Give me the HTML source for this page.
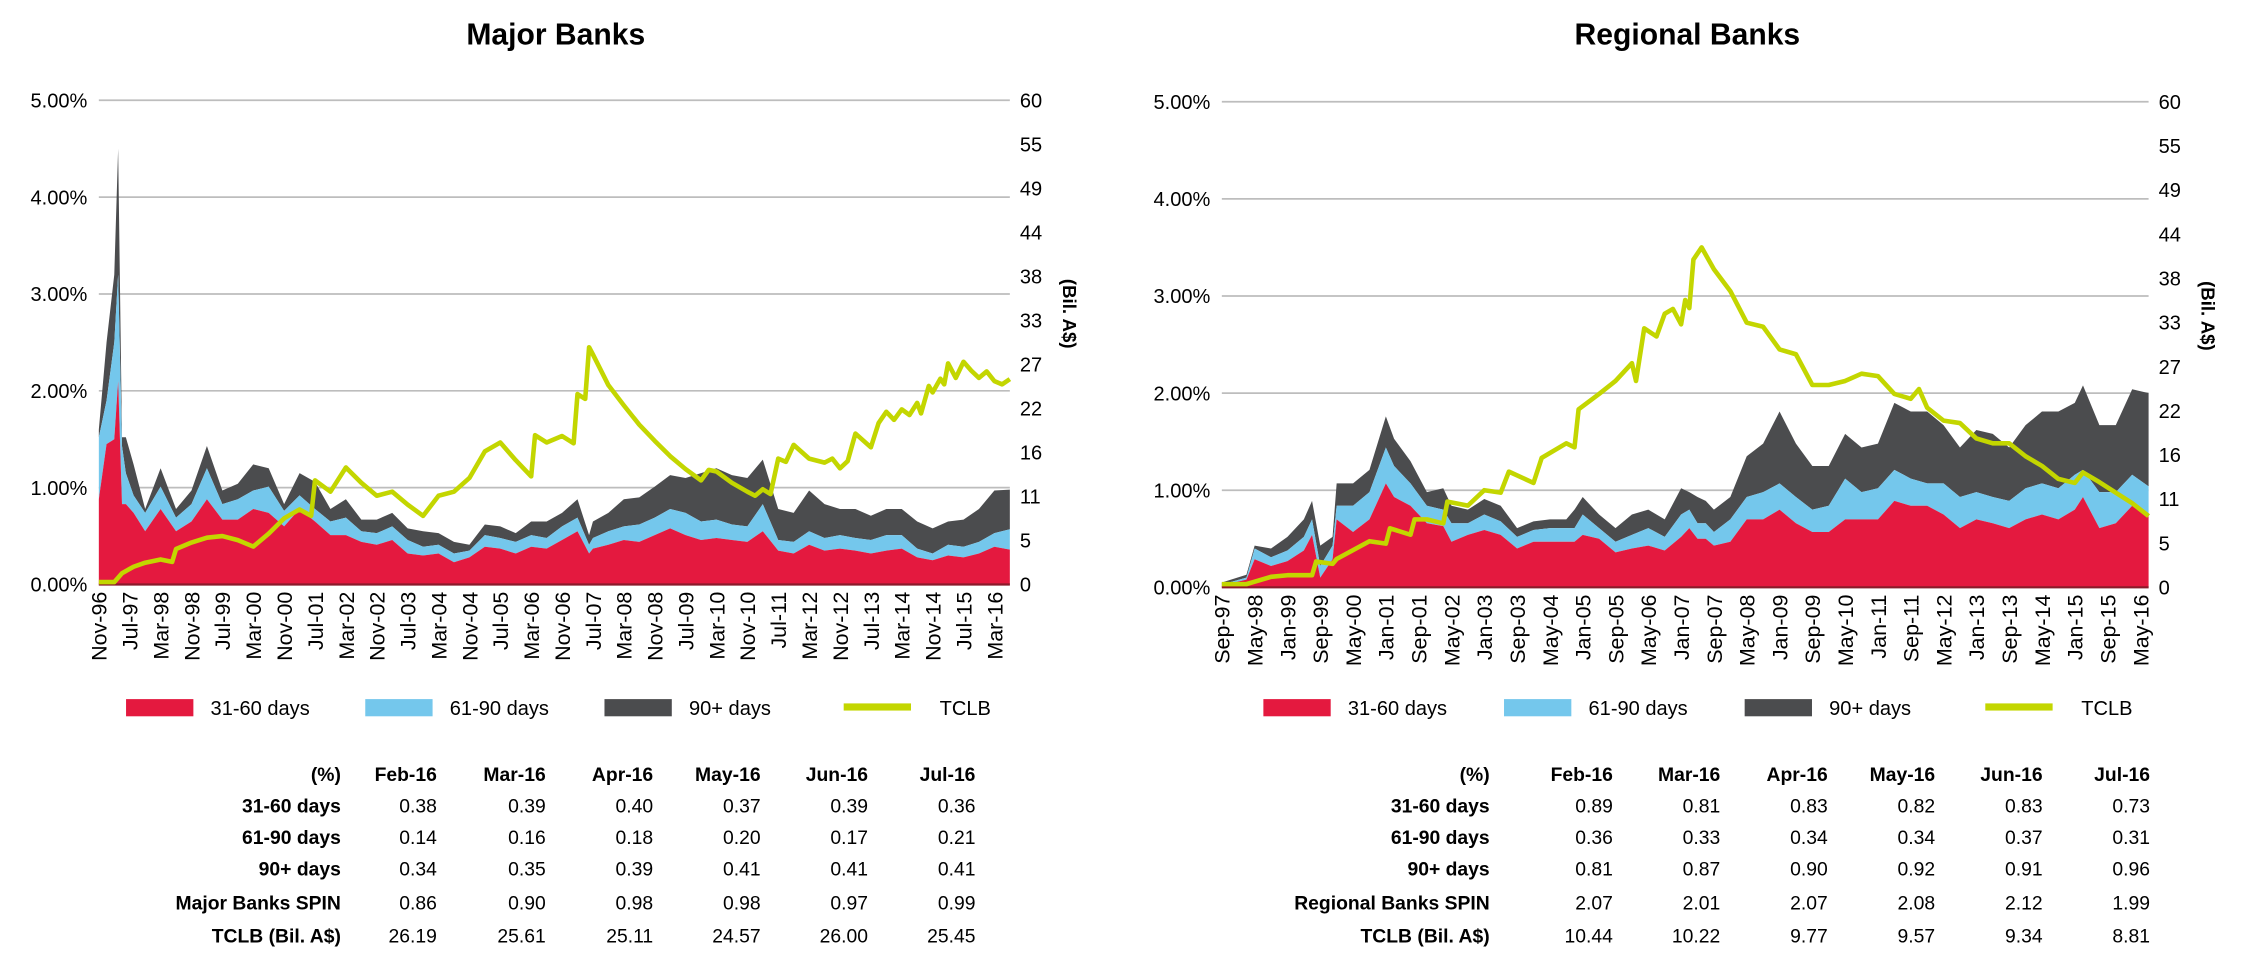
<!DOCTYPE html>
<html><head><meta charset="utf-8">
<style>
html,body{margin:0;padding:0;background:#fff;}
svg{display:block;font-family:"Liberation Sans",Arial,sans-serif;}
</style></head>
<body>
<svg id="root" width="2246" height="967" viewBox="0 0 1568 675" preserveAspectRatio="none" xmlns="http://www.w3.org/2000/svg">
<g id="left"></g>
<g id="right"></g>
</svg>
<script>
// ---- Major Banks data (month offsets from Nov-96) ----
const majorMonths=[0,2,4,5,6,7,9,12,16,20,24,28,32,36,40,44,48,52,56,60,64,68,72,76,80,84,88,92,96,100,104,108,112,116,120,124,127,128,132,136,140,144,148,152,156,160,164,168,172,176,180,184,188,192,196,200,204,208,212,216,220,224,228,232,236];
const major3160=[.88,1.45,1.5,2.1,.83,.83,.74,.55,.78,.55,.65,.88,.67,.67,.78,.74,.6,.78,.65,.51,.51,.44,.41,.46,.32,.3,.32,.23,.28,.39,.37,.32,.39,.37,.46,.55,.32,.37,.41,.46,.44,.51,.58,.51,.46,.48,.46,.44,.55,.35,.32,.41,.35,.37,.35,.32,.35,.37,.28,.25,.3,.28,.32,.39,.36];
const major6190=[.64,.45,1.0,1.1,.6,.32,.18,.19,.23,.14,.18,.32,.16,.21,.19,.27,.16,.14,.13,.14,.18,.11,.12,.14,.14,.09,.09,.09,.07,.12,.11,.12,.12,.11,.14,.14,.09,.11,.14,.14,.18,.18,.2,.23,.19,.19,.16,.16,.28,.11,.12,.14,.13,.14,.13,.14,.16,.14,.09,.07,.11,.11,.12,.14,.21];
const major90=[.08,.6,.7,1.3,.09,.37,.32,.04,.19,.09,.14,.23,.14,.16,.27,.19,.07,.23,.28,.13,.19,.12,.14,.14,.12,.16,.12,.12,.06,.11,.12,.09,.14,.17,.14,.19,.1,.17,.19,.28,.28,.32,.35,.36,.5,.53,.51,.5,.46,.32,.3,.42,.35,.27,.3,.25,.27,.27,.28,.26,.24,.28,.34,.44,.41];
const majorTclbMonths=[0,4,6,9,12,16,19,20,24,28,32,36,40,44,48,52,55,56,60,64,68,72,76,80,84,88,92,96,100,104,108,112,113,116,120,123,124,126,127,128,132,136,140,144,148,152,156,158,160,164,168,170,172,174,176,178,180,184,188,190,192,194,196,200,202,204,206,208,210,212,213,215,216,218,219,220,222,224,226,228,230,232,234,236];
const majorTclb=[.3,.3,1.4,2.2,2.7,3.1,2.8,4.4,5.2,5.8,6.0,5.5,4.7,6.3,8.2,9.3,8.5,12.9,11.5,14.5,12.6,11,11.5,9.9,8.5,11,11.5,13.2,16.5,17.6,15.4,13.4,18.5,17.6,18.4,17.5,23.6,23,29.4,28.5,24.7,22.2,19.8,17.8,15.9,14.3,12.9,14.2,14,12.6,11.5,11,11.8,11.2,15.6,15.2,17.3,15.6,15.1,15.6,14.4,15.3,18.7,17,20,21.4,20.4,21.7,21,22.5,21.2,24.6,23.8,25.5,24.8,27.4,25.6,27.6,26.5,25.6,26.4,25.2,24.8,25.45];
const majorXLabels=["Nov-96","Jul-97","Mar-98","Nov-98","Jul-99","Mar-00","Nov-00","Jul-01","Mar-02","Nov-02","Jul-03","Mar-04","Nov-04","Jul-05","Mar-06","Nov-06","Jul-07","Mar-08","Nov-08","Jul-09","Mar-10","Nov-10","Jul-11","Mar-12","Nov-12","Jul-13","Mar-14","Nov-14","Jul-15","Mar-16"];
const majorTableRows=["31-60 days","61-90 days","90+ days","Major Banks SPIN","TCLB (Bil. A$)"];
const majorTableVals=[["0.38","0.39","0.40","0.37","0.39","0.36"],["0.14","0.16","0.18","0.20","0.17","0.21"],["0.34","0.35","0.39","0.41","0.41","0.41"],["0.86","0.90","0.98","0.98","0.97","0.99"],["26.19","25.61","25.11","24.57","26.00","25.45"]];

// ---- Regional Banks data (month offsets from Sep-97) ----
const regMonths=[0,6,8,12,16,20,22,24,27,28,32,36,40,42,46,50,54,56,60,64,68,72,76,80,84,86,88,92,96,100,104,108,112,114,116,118,120,124,128,132,136,140,144,148,152,156,160,164,168,172,176,180,184,188,192,196,200,204,208,210,214,218,222,226];
const reg3160=[.02,.08,.29,.22,.27,.38,.54,.1,.29,.7,.57,.7,1.07,.93,.84,.66,.63,.47,.54,.59,.54,.4,.47,.47,.47,.47,.54,.5,.36,.4,.43,.38,.52,.61,.5,.5,.43,.47,.7,.7,.8,.66,.57,.57,.7,.7,.7,.89,.84,.84,.75,.61,.7,.66,.61,.7,.75,.7,.8,.93,.61,.66,.84,.73];
const reg6190=[.01,.02,.11,.09,.11,.14,.16,.12,.14,.14,.27,.28,.37,.32,.23,.18,.17,.19,.12,.16,.14,.12,.12,.14,.14,.14,.21,.11,.11,.14,.18,.14,.23,.19,.16,.16,.14,.23,.23,.28,.27,.27,.23,.27,.42,.28,.32,.32,.28,.23,.32,.32,.28,.27,.28,.32,.32,.32,.36,.28,.37,.32,.32,.31];
const reg90=[.02,.03,.03,.09,.14,.18,.19,.21,.09,.23,.23,.23,.32,.28,.23,.14,.22,.18,.14,.16,.16,.09,.09,.09,.09,.19,.18,.14,.14,.21,.19,.18,.27,.18,.27,.23,.23,.23,.42,.5,.74,.55,.45,.41,.46,.46,.46,.69,.69,.74,.6,.51,.64,.65,.55,.65,.74,.79,.74,.87,.69,.69,.88,.96];
const regTclbMonths=[0,6,8,12,16,22,23,27,28,32,36,40,41,46,47,50,54,55,60,64,68,70,76,78,84,86,87,92,96,100,101,103,106,108,110,112,113,114,115,117,120,124,128,132,136,140,144,148,152,156,160,164,168,170,172,176,180,184,188,192,196,200,204,208,210,214,218,222,226];
const regTclb=[.4,.4,.7,1.3,1.5,1.5,3.2,2.9,3.5,4.6,5.7,5.4,7.3,6.5,8.4,8.4,7.9,10.6,10.1,12,11.7,14.3,12.9,16,17.8,17.3,22,23.9,25.5,27.7,25.5,32,31,33.8,34.4,32.5,35.5,34.5,40.5,42,39.3,36.6,32.7,32.2,29.4,28.8,25,25,25.5,26.4,26.1,23.9,23.3,24.5,22.2,20.6,20.3,18.4,17.8,17.8,16.2,15,13.4,12.9,14.2,13,11.7,10.4,8.81];
const regXLabels=["Sep-97","May-98","Jan-99","Sep-99","May-00","Jan-01","Sep-01","May-02","Jan-03","Sep-03","May-04","Jan-05","Sep-05","May-06","Jan-07","Sep-07","May-08","Jan-09","Sep-09","May-10","Jan-11","Sep-11","May-12","Jan-13","Sep-13","May-14","Jan-15","Sep-15","May-16"];
const regTableRows=["31-60 days","61-90 days","90+ days","Regional Banks SPIN","TCLB (Bil. A$)"];
const regTableVals=[["0.89","0.81","0.83","0.82","0.83","0.73"],["0.36","0.33","0.34","0.34","0.37","0.31"],["0.81","0.87","0.90","0.92","0.91","0.96"],["2.07","2.01","2.07","2.08","2.12","1.99"],["10.44","10.22","9.77","9.57","9.34","8.81"]];

const leftTicks=["0.00%","1.00%","2.00%","3.00%","4.00%","5.00%"];
const rightTicks=["0","5","11","16","22","27","33","38","44","49","55","60"];
const tableHeaders=["(%)","Feb-16","Mar-16","Apr-16","May-16","Jun-16","Jul-16"];
const legendLabels=["31-60 days","61-90 days","90+ days","TCLB"];
const COL={red:"#e4193f",blue:"#74c7ec",dark:"#4b4c4e",green:"#c3d600"};
const NS="http://www.w3.org/2000/svg";

function mk(parent,tag,attrs,text){const e=document.createElementNS(NS,tag);for(const k in attrs)e.setAttribute(k,attrs[k]);if(text!==undefined)e.textContent=text;parent.appendChild(e);return e;}

function panel(g,cfg){
  const x=m=>cfg.x0+(cfg.x1-cfg.x0)*m/cfg.maxM;
  const y=v=>cfg.y0-(cfg.y0-cfg.y5)*v/5;
  const y2=v=>cfg.y0-(cfg.y0-cfg.y5)*v/60;
  let t=mk(g,"text",{x:cfg.titleX,y:31,"text-anchor":"middle","font-size":21,"font-weight":"bold"},cfg.title);
  
  
  leftTicks.forEach((lb,i)=>{
    const l=mk(g,"line",{x1:cfg.x0,x2:cfg.x1,y1:y(i),y2:y(i),stroke:"#bdbdbd","stroke-width":1.2});
    
    
    const tx=mk(g,"text",{x:cfg.x0-8,y:y(i)+5,"text-anchor":"end","font-size":14},lb);
    
    
  });
  rightTicks.forEach((lb,i)=>{
    const tx=mk(g,"text",{x:cfg.x1+7,y:y2(i*60/11)+5,"font-size":14},lb);
    
    
  });
  const at=mk(g,"text",{x:0,y:0,"text-anchor":"middle","font-size":13,"font-weight":"bold",transform:`translate(${cfg.x1+37},${(cfg.y0+cfg.y5)/2-20}) rotate(90)`},"(Bil. A$)");
  
  
  const m=cfg.months, s1=cfg.s1, s2=cfg.s2, s3=cfg.s3;
  const c1=s1.map(v=>v), c2=s1.map((v,i)=>v+s2[i]), c3=c2.map((v,i)=>v+s3[i]);
  function area(top,bot,color,name){
    let d="M"+m.map((mm,i)=>x(mm)+","+y(top[i])).join("L");
    for(let i=m.length-1;i>=0;i--)d+="L"+x(m[i])+","+(bot?y(bot[i]):cfg.y0);
    d+="Z";
    const p=mk(g,"path",{d:d,fill:color});
    
    
  }
  area(c3,c2,COL.dark,'area-90-plus-days');
  area(c2,c1,COL.blue,'area-61-90-days');
  area(c1,null,COL.red,'area-31-60-days');
  const ax=mk(g,"line",{x1:cfg.x0,x2:cfg.x1,y1:cfg.y0,y2:cfg.y0,stroke:"#8b1a2a","stroke-width":1.5});
  
  
  const ld="M"+cfg.tm.map((mm,i)=>x(mm)+","+y2(cfg.tv[i])).join("L");
  const ln=mk(g,"path",{d:ld,fill:"none",stroke:COL.green,"stroke-width":3.2,"stroke-linejoin":"round"});
  
  
  cfg.xl.forEach((lb,i)=>{
    const xx=x(i*8)+5.5;
    const tx=mk(g,"text",{x:0,y:0,"text-anchor":"end","font-size":15,transform:`translate(${xx},${cfg.y0+5}) rotate(-90)`},lb);
    
    
  });
  const lcol=[COL.red,COL.blue,COL.dark,COL.green];
  legendLabels.forEach((lb,i)=>{
    const lx=cfg.legX+i*cfg.legStep;
    const r=mk(g,"rect",{x:lx,y:i==3?491:488,width:47,height:i==3?5:12,fill:lcol[i]});
    
    
    const tx=mk(g,"text",{x:lx+(i==3?67:59),y:499,"font-size":14},lb);
    
    
  });
  const rowY=[545,567,589,611,635,658];
  tableHeaders.forEach((h,j)=>{
    const tx=mk(g,"text",{x:cfg.colX[j],y:rowY[0],"text-anchor":"end","font-size":13.5,"font-weight":"bold"},h);
    
    
  });
  cfg.rows.forEach((r,i)=>{
    const tx=mk(g,"text",{x:cfg.colX[0],y:rowY[i+1],"text-anchor":"end","font-size":13.5,"font-weight":"bold"},r);
    
    
    cfg.vals[i].forEach((v,j)=>{
      const c=mk(g,"text",{x:cfg.colX[j+1],y:rowY[i+1],"text-anchor":"end","font-size":13.5},v);
      
      
    });
  });
}
panel(document.getElementById('left'),{title:"Major Banks",titleX:388,x0:69,x1:705,y0:408,y5:70,maxM:236,
  months:majorMonths,s1:major3160,s2:major6190,s3:major90,tm:majorTclbMonths,tv:majorTclb,xl:majorXLabels,
  legX:88,legStep:167,rows:majorTableRows,vals:majorTableVals,colX:[238,305,381,456,531,606,681]});
panel(document.getElementById('right'),{title:"Regional Banks",titleX:1178,x0:853,x1:1500,y0:410,y5:71,maxM:226,
  months:regMonths,s1:reg3160,s2:reg6190,s3:reg90,tm:regTclbMonths,tv:regTclb,xl:regXLabels,
  legX:882,legStep:168,rows:regTableRows,vals:regTableVals,colX:[1040,1126,1201,1276,1351,1426,1501]});
</script>
</body></html>
